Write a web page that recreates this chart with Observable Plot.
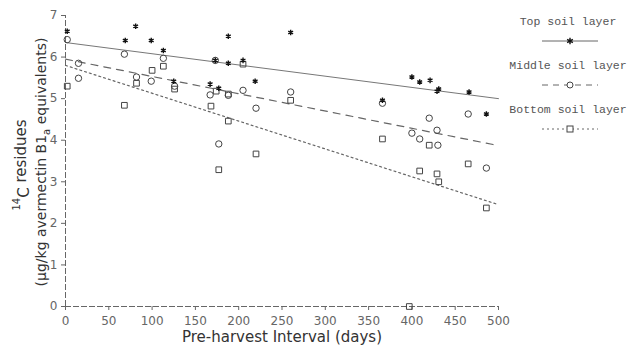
<!DOCTYPE html>
<html><head><meta charset="utf-8">
<script src="https://cdn.jsdelivr.net/npm/d3@7"></script>
<script src="https://cdn.jsdelivr.net/npm/@observablehq/plot@0.6"></script>
<style>
body{margin:0;background:#fff;}
#wrap{position:relative;width:632px;height:348px;overflow:hidden;}
.leg{position:absolute;font-family:"Liberation Mono",monospace;font-size:11.5px;color:#555;white-space:nowrap;}
</style></head>
<body><div id="wrap"></div>
<script>
// Top soil layer (asterisks)
const topDays = [2,69,81,99,113,125,167,173,177,188,188,205,219,260,366,400,409,421,431,429,466,486];
const topVals = [6.62,6.40,6.74,6.40,6.16,5.42,5.35,5.92,5.25,6.5,5.85,5.92,5.42,6.59,4.96,5.52,5.40,5.44,5.23,5.18,5.16,4.63];
// Middle soil layer (circles)
const midDays = [2,15,15,68,82,99,113,126,167,173,177,188,205,220,260,366,400,409,420,429,430,465,486];
const midVals = [6.42,5.85,5.49,6.07,5.52,5.42,5.97,5.30,5.09,5.92,3.91,5.08,5.2,4.77,5.16,4.89,4.17,4.03,4.53,4.24,3.88,4.63,3.33];
// Bottom soil layer (squares)
const botDays = [2,68,82,100,113,126,168,174,177,188,188,205,220,260,366,397,409,420,429,431,465,486];
const botVals = [5.30,4.84,5.37,5.68,5.78,5.23,4.82,5.18,3.29,5.11,4.46,5.83,3.67,4.96,4.03,0,3.26,3.88,3.19,3.00,3.43,2.37];
// Fitted lines
const fitDays = [0,500];
const topFit = [6.35,5.0];
const midFit = [5.95,3.87];
const botFit = [5.8,2.45];
const xTicks = [0,50,100,150,200,250,300,350,400,450,500];
const yTicks = [0,1,2,3,4,5,6,7];

const toRows = (d,v) => d.map((x,i)=>({x, y:v[i]}));
const topRows = toRows(topDays, topVals);
const midRows = toRows(midDays, midVals);
const botRows = toRows(botDays, botVals);

const chart = Plot.plot({
  width: 632, height: 348,
  marginLeft: 65, marginRight: 134, marginTop: 15, marginBottom: 42,
  style: {fontFamily: "DejaVu Sans, sans-serif", fontSize: "12px", color: "#666", background: "#fff"},
  x: {domain: [0,500], ticks: xTicks, tickFormat: d3.format("d"), tickSize: 4, tickPadding: 6, label: null},
  y: {domain: [0,7], ticks: yTicks, tickFormat: d3.format("d"), tickSize: 4, tickPadding: 4, label: null},
  marks: [
    Plot.ruleX([0], {y1: 0, y2: 7, stroke: "#666", strokeDasharray: "6,2"}),
    Plot.ruleY([0], {x1: 0, x2: 500, stroke: "#666", strokeDasharray: "6,2"}),
    Plot.line(toRows(fitDays, topFit), {x: "x", y: "y", stroke: "#777", strokeWidth: 1}),
    Plot.line(toRows(fitDays, midFit), {x: "x", y: "y", stroke: "#666", strokeWidth: 1.2, strokeDasharray: "7,6"}),
    Plot.line(toRows(fitDays, botFit), {x: "x", y: "y", stroke: "#666", strokeWidth: 1.2, strokeDasharray: "2,3"}),
    Plot.dot(midRows, {x: "x", y: "y", symbol: "circle", r: 3.2, stroke: "#444", strokeWidth: 1, fill: "none"}),
    Plot.dot(botRows, {x: "x", y: "y", symbol: "square", r: 3.2, stroke: "#444", strokeWidth: 1, fill: "none"}),
    Plot.dot(topRows, {x: "x", y: "y", symbol: "asterisk", r: 2.6, stroke: "#111", strokeWidth: 1.4})
  ]
});
const wrap = document.getElementById("wrap");
wrap.appendChild(chart);

const g = d3.select(chart).append("g").attr("fill","#333").attr("font-family","DejaVu Sans, sans-serif");
// x label
g.append("text").attr("x",282).attr("y",342).attr("text-anchor","middle").attr("font-size","15px").text("Pre-harvest Interval (days)");
// y label with super/subscript
const t1 = g.append("text").attr("transform","translate(26,165) rotate(-90)").attr("text-anchor","middle").attr("font-size","15px");
t1.append("tspan").attr("font-size","10px").attr("dy","-6").text("14");
t1.append("tspan").attr("dy","9").text("C");
t1.append("tspan").attr("dy","-3").text(" residues");
const t2 = g.append("text").attr("transform","translate(46,162) rotate(-90)").attr("text-anchor","middle").attr("font-size","14px");
t2.append("tspan").text("(μg/kg avermectin B1");
t2.append("tspan").attr("font-size","10px").attr("dy","4").text("a");
t2.append("tspan").attr("dy","-4").text(" equivalents)");

// legend
const legend = [
  {label: "Top soil layer", y: 15, dash: "none", sym: "asterisk"},
  {label: "Middle soil layer", y: 59, dash: "6,5", sym: "circle"},
  {label: "Bottom soil layer", y: 103, dash: "2,3", sym: "square"}
];
legend.forEach(l => {
  const d = document.createElement("div");
  d.className = "leg";
  d.style.left = "506px"; d.style.top = l.y + "px"; d.style.width = "124px"; d.style.textAlign = "center";
  d.textContent = l.label;
  wrap.appendChild(d);
  const s = d3.create("svg").attr("width",60).attr("height",10)
    .style("position","absolute").style("left","540px").style("top",(l.y+21)+"px");
  s.append("line").attr("x1",2).attr("x2",58).attr("y1",5).attr("y2",5).attr("stroke","#666").attr("stroke-dasharray",l.dash);
  if (l.sym === "asterisk") s.append("path").attr("d",d3.symbol(d3.symbolAsterisk, 30)()).attr("transform","translate(30,5)").attr("stroke","#111").attr("stroke-width",1.4);
  if (l.sym === "circle") s.append("circle").attr("cx",30).attr("cy",5).attr("r",3).attr("fill","#fff").attr("stroke","#444");
  if (l.sym === "square") s.append("rect").attr("x",27).attr("y",2).attr("width",6).attr("height",6).attr("fill","#fff").attr("stroke","#444");
  wrap.appendChild(s.node());
});
</script></body></html>
